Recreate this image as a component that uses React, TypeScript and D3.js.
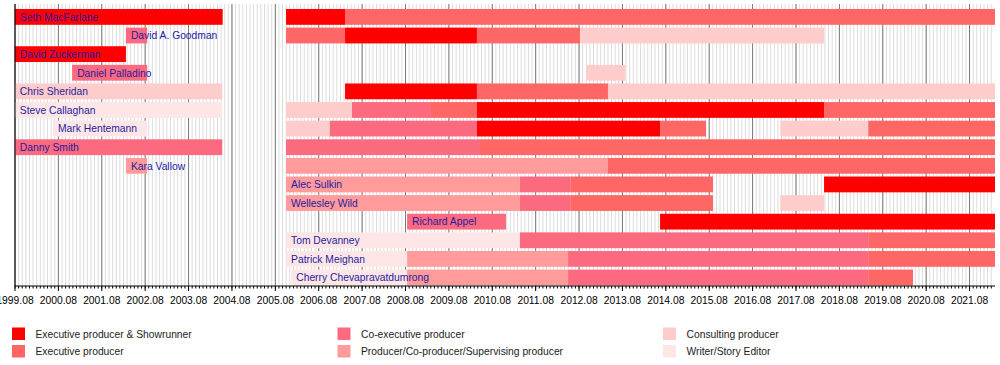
import * as d3 from 'd3';

// people, top to bottom
const people = [
  'Seth MacFarlane',
  'David A. Goodman',
  'David Zuckerman',
  'Daniel Palladino',
  'Chris Sheridan',
  'Steve Callaghan',
  'Mark Hentemann',
  'Danny Smith',
  'Kara Vallow',
  'Alec Sulkin',
  'Wellesley Wild',
  'Richard Appel',
  'Tom Devanney',
  'Patrick Meighan',
  'Cherry Chevapravatdumrong',
];

const roles = ['EPS', 'EP', 'CEP', 'PR', 'CP', 'WR'];
const roleLabels = [
  'Executive producer & Showrunner',
  'Executive producer',
  'Co-executive producer',
  'Producer/Co-producer/Supervising producer',
  'Consulting producer',
  'Writer/Story Editor',
];
const roleColors = ['#ff0000', '#ff6666', '#fc6a80', '#ff9b9b', '#ffcccc', '#ffe6e6'];

// [person, from, to, role] in decimal years
const spans: [string, number, number, string][] = [
  ['Seth MacFarlane', 1999.58, 2004.37, 'EPS'],
  ['Seth MacFarlane', 2005.83, 2007.19, 'EPS'],
  ['Seth MacFarlane', 2007.19, 2022.17, 'EP'],
  ['David A. Goodman', 2002.14, 2002.63, 'CEP'],
  ['David A. Goodman', 2005.83, 2007.19, 'EP'],
  ['David A. Goodman', 2007.19, 2010.23, 'EPS'],
  ['David A. Goodman', 2010.23, 2012.61, 'EP'],
  ['David A. Goodman', 2012.61, 2018.23, 'CP'],
  ['David Zuckerman', 1999.58, 2002.14, 'EPS'],
  ['Daniel Palladino', 2000.9, 2002.63, 'CEP'],
  ['Daniel Palladino', 2012.75, 2013.65, 'CP'],
  ['Chris Sheridan', 1999.58, 2004.36, 'CP'],
  ['Chris Sheridan', 2007.19, 2010.23, 'EPS'],
  ['Chris Sheridan', 2010.23, 2013.25, 'EP'],
  ['Chris Sheridan', 2013.25, 2022.17, 'CP'],
  ['Steve Callaghan', 1999.58, 2004.36, 'WR'],
  ['Steve Callaghan', 2005.83, 2007.35, 'CP'],
  ['Steve Callaghan', 2007.35, 2009.15, 'CEP'],
  ['Steve Callaghan', 2009.15, 2010.23, 'EP'],
  ['Steve Callaghan', 2010.23, 2018.23, 'EPS'],
  ['Steve Callaghan', 2018.23, 2022.17, 'EP'],
  ['Mark Hentemann', 2000.46, 2002.63, 'WR'],
  ['Mark Hentemann', 2005.83, 2006.84, 'CP'],
  ['Mark Hentemann', 2006.84, 2010.23, 'CEP'],
  ['Mark Hentemann', 2010.23, 2014.45, 'EPS'],
  ['Mark Hentemann', 2014.45, 2015.51, 'EP'],
  ['Mark Hentemann', 2017.22, 2019.25, 'CP'],
  ['Mark Hentemann', 2019.25, 2022.17, 'EP'],
  ['Danny Smith', 1999.58, 2004.36, 'CEP'],
  ['Danny Smith', 2005.83, 2010.3, 'CEP'],
  ['Danny Smith', 2010.3, 2022.17, 'EP'],
  ['Kara Vallow', 2002.14, 2002.63, 'PR'],
  ['Kara Vallow', 2005.83, 2013.25, 'PR'],
  ['Kara Vallow', 2013.25, 2022.17, 'EP'],
  ['Alec Sulkin', 2005.83, 2011.22, 'PR'],
  ['Alec Sulkin', 2011.22, 2012.38, 'CEP'],
  ['Alec Sulkin', 2012.38, 2015.67, 'EP'],
  ['Alec Sulkin', 2018.23, 2022.17, 'EPS'],
  ['Wellesley Wild', 2005.83, 2011.22, 'PR'],
  ['Wellesley Wild', 2011.22, 2012.38, 'CEP'],
  ['Wellesley Wild', 2012.38, 2015.67, 'EP'],
  ['Wellesley Wild', 2017.22, 2018.23, 'CP'],
  ['Richard Appel', 2008.62, 2010.9, 'CEP'],
  ['Richard Appel', 2014.45, 2022.17, 'EPS'],
  ['Tom Devanney', 2005.83, 2011.22, 'WR'],
  ['Tom Devanney', 2011.22, 2019.25, 'CEP'],
  ['Tom Devanney', 2019.25, 2022.17, 'EP'],
  ['Patrick Meighan', 2005.83, 2008.62, 'WR'],
  ['Patrick Meighan', 2008.62, 2012.33, 'PR'],
  ['Patrick Meighan', 2012.33, 2019.25, 'CEP'],
  ['Patrick Meighan', 2019.25, 2022.17, 'EP'],
  ['Cherry Chevapravatdumrong', 2005.95, 2008.62, 'WR'],
  ['Cherry Chevapravatdumrong', 2008.62, 2012.33, 'PR'],
  ['Cherry Chevapravatdumrong', 2012.33, 2019.25, 'CEP'],
  ['Cherry Chevapravatdumrong', 2019.25, 2020.28, 'EP'],
];

const tickYears = d3.range(1999, 2022);

const W = 1000;
const H = 365;
const FONT = '"Liberation Sans", Arial, sans-serif';

export default function App() {
  const x = d3.scaleLinear().domain([1999 + 7 / 12, 2022.17]).range([15, 995]);
  const y = d3.scalePoint<string>().domain(people).range([16.9, 277.5]);
  const color = d3.scaleOrdinal<string, string>().domain(roles).range(roleColors);
  const barH = 15.8;
  const top = 4;
  const axisY = 286;

  const majors = tickYears.map((yr) => yr + 7 / 12);
  const minors = d3.range(0, 271).map((m) => 1999 + 7 / 12 + m / 12).filter((v) => v <= 2022.17);

  const firstStart = new Map<string, number>();
  spans.forEach(([p, from]) => {
    if (!firstStart.has(p) || from < firstStart.get(p)!) firstStart.set(p, from);
  });

  const legendCol = d3.scalePoint<number>().domain([0, 1, 2]).range([12, 663]);

  return (
    <svg
      width={W}
      height={H}
      style={{ position: 'absolute', left: 0, top: 0, background: '#fff' }}
      fontFamily={FONT}
    >
      <rect width={W} height={H} fill="#fff" />
      {minors.map((m, i) => (
        <line key={'g' + i} x1={x(m)} x2={x(m)} y1={top} y2={axisY} stroke="#dcdcdc" strokeWidth={1} />
      ))}
      {majors.map((m, i) => (
        <line key={'G' + i} x1={x(m)} x2={x(m)} y1={top} y2={axisY} stroke="#7a7a7a" strokeWidth={1} />
      ))}

      {spans.map(([p, from, to, role], i) => (
        <rect
          key={'b' + i}
          x={x(from)}
          y={y(p)! - barH / 2}
          width={x(to) - x(from)}
          height={barH}
          fill={color(role)}
        />
      ))}

      {people.map((p) => (
        <text
          key={'l' + p}
          x={x(firstStart.get(p)!) + 5}
          y={y(p)! + 3.8}
          fontSize={10.3}
          fill="#1c1ca0"
        >
          {p}
        </text>
      ))}

      <line x1={15} x2={15} y1={top} y2={axisY} stroke="#000" />
      <line x1={15} x2={995} y1={axisY} y2={axisY} stroke="#000" />
      {minors.map((m, i) => (
        <line key={'t' + i} x1={x(m)} x2={x(m)} y1={axisY} y2={axisY + 2.5} stroke="#000" />
      ))}
      {majors.map((m, i) => (
        <g key={'T' + i}>
          <line x1={x(m)} x2={x(m)} y1={axisY} y2={axisY + 5} stroke="#000" />
          <text x={x(m)} y={304} fontSize={10.3} textAnchor="middle" fill="#000">
            {tickYears[i]}.08
          </text>
        </g>
      ))}

      {roles.map((r, i) => {
        const col = Math.floor(i / 2);
        const row = i % 2;
        const lx = legendCol(col)!;
        const ly = 327.5 + row * 17.5;
        return (
          <g key={'lg' + r}>
            <rect x={lx} y={ly} width={13} height={12.5} fill={color(r)} />
            <text x={lx + 23.5} y={ly + 10.2} fontSize={10.3} fill="#222">
              {roleLabels[i]}
            </text>
          </g>
        );
      })}
    </svg>
  );
}
